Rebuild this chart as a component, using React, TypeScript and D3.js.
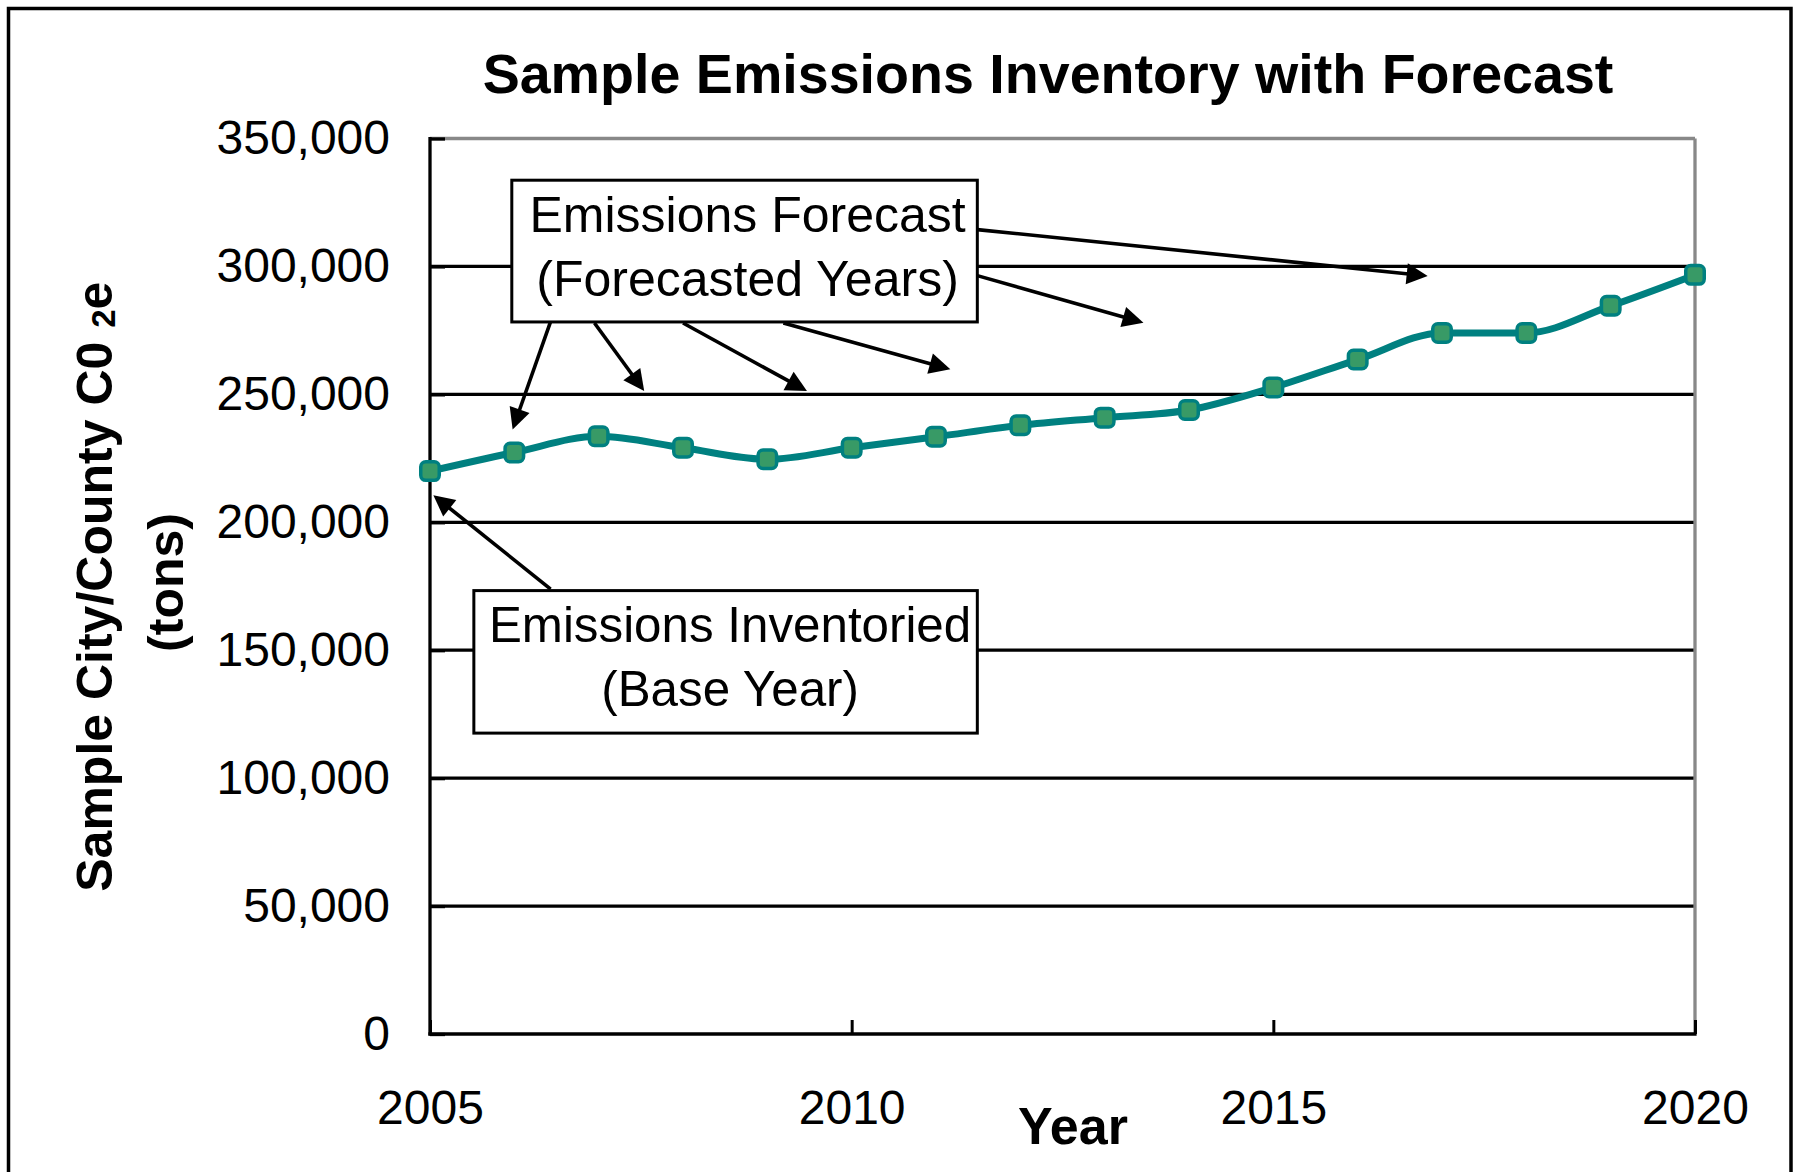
import React, { useEffect, useRef } from 'react'
import * as d3 from 'd3'

// emissions in tons of CO2e
const years = [2005, 2006, 2007, 2008, 2009, 2010, 2011, 2012, 2013, 2014, 2015, 2016, 2017, 2018, 2019, 2020]
const emissions = [220000, 227300, 233600, 229100, 224600, 229100, 233400, 237900, 240900, 243900, 252700, 263600, 274000, 274000, 284600, 296700]

const yTicks = [0, 50000, 100000, 150000, 200000, 250000, 300000, 350000]
const xTicks = [2005, 2010, 2015, 2020]

// callout boxes, in chart units (year, tons)
const forecastBox = { x0: 2005.97, x1: 2011.49, v0: 333700, v1: 278300, lines: ['Emissions Forecast', '(Forecasted Years)'] }
const baseBox = { x0: 2005.52, x1: 2011.49, v0: 173300, v1: 117600, lines: ['Emissions Inventoried', '(Base Year)'] }

// arrows: [fromYear, fromValue, toYear, toValue]
const forecastArrows = [
  [2006.43, 278450, 2005.98, 236300],
  [2006.95, 277900, 2007.54, 251300],
  [2008.0, 277900, 2009.47, 251300],
  [2009.19, 277900, 2011.17, 259800],
  [2011.49, 296400, 2013.46, 278000],
  [2011.49, 314400, 2016.83, 296300],
]
const baseArrows = [
  [2006.43, 173900, 2005.04, 210600],
]

function App() {
  const svgRef = useRef(null)

  useEffect(() => {
    const svg = d3.select(svgRef.current)
    svg.selectAll('*').remove()

    const font = '"Liberation Sans", Arial, Helvetica, sans-serif'
    const x = d3.scaleLinear().domain([2005, 2020]).range([430, 1695])
    const y = d3.scaleLinear().domain([0, 350000]).range([1034, 138.5])

    // outer frame, runs off the bottom of the page
    svg.append('rect')
      .attr('x', 8.5).attr('y', 8.5)
      .attr('width', 1782.5).attr('height', 1250)
      .attr('fill', '#fff')
      .attr('stroke', '#000')
      .attr('stroke-width', 3.5)

    svg.append('text')
      .attr('x', 1048).attr('y', 93)
      .attr('text-anchor', 'middle')
      .attr('font-family', font)
      .attr('font-weight', 'bold')
      .attr('font-size', 55.6)
      .text('Sample Emissions Inventory with Forecast')

    // gridlines (top one is grey, part of the plot frame)
    svg.append('g').selectAll('line')
      .data(yTicks.filter(d => d > 0))
      .join('line')
      .attr('x1', x(2005)).attr('x2', x(2020))
      .attr('y1', d => y(d)).attr('y2', d => y(d))
      .attr('stroke', d => d === 350000 ? '#888' : '#000')
      .attr('stroke-width', 3.3)

    svg.append('line')
      .attr('x1', x(2020)).attr('x2', x(2020))
      .attr('y1', y(350000)).attr('y2', y(0))
      .attr('stroke', '#888')
      .attr('stroke-width', 3.3)

    const yAxis = d3.axisLeft(y)
      .tickValues(yTicks)
      .tickFormat(d3.format(','))
      .tickSizeInner(-15)
      .tickSizeOuter(0)
      .tickPadding(40)

    const gy = svg.append('g')
      .attr('transform', `translate(${x(2005)},0)`)
      .call(yAxis)
    gy.select('.domain').remove()
    gy.attr('font-size', 48).attr('font-family', font)
    gy.selectAll('line').attr('stroke-width', 3.3)

    const xAxis = d3.axisBottom(x)
      .tickValues(xTicks)
      .tickFormat(d3.format('d'))
      .tickSizeInner(-14)
      .tickSizeOuter(0)
      .tickPadding(56)

    const gx = svg.append('g')
      .attr('transform', `translate(0,${y(0)})`)
      .call(xAxis)
    gx.select('.domain').remove()
    gx.attr('font-size', 48).attr('font-family', font)
    gx.selectAll('line').attr('stroke-width', 3)

    // axis lines
    svg.append('line')
      .attr('x1', x(2005)).attr('x2', x(2005))
      .attr('y1', y(350000) - 1.6).attr('y2', y(0) + 1.6)
      .attr('stroke', '#000').attr('stroke-width', 3.3)
    svg.append('line')
      .attr('x1', x(2005) - 1.6).attr('x2', x(2020) + 1.6)
      .attr('y1', y(0)).attr('y2', y(0))
      .attr('stroke', '#000').attr('stroke-width', 3.3)

    svg.append('text')
      .attr('x', 1073).attr('y', 1144)
      .attr('text-anchor', 'middle')
      .attr('font-family', font)
      .attr('font-weight', 'bold')
      .attr('font-size', 52)
      .text('Year')

    const yl = svg.append('text')
      .attr('transform', 'translate(111.7,586.7) rotate(-90)')
      .attr('text-anchor', 'middle')
      .attr('font-family', font)
      .attr('font-weight', 'bold')
      .attr('font-size', 50)
    yl.append('tspan').text('Sample City/County C0 ')
    yl.append('tspan').attr('font-size', 33).attr('dy', 3).text('2')
    yl.append('tspan').attr('dy', -3).text('e')

    svg.append('text')
      .attr('transform', 'translate(183,582.5) rotate(-90)')
      .attr('text-anchor', 'middle')
      .attr('font-family', font)
      .attr('font-weight', 'bold')
      .attr('font-size', 50)
      .text('(tons)')

    // callout boxes
    const boxes = [forecastBox, baseBox]
    const gb = svg.append('g')
    gb.selectAll('rect')
      .data(boxes)
      .join('rect')
      .attr('x', d => x(d.x0))
      .attr('y', d => y(d.v0))
      .attr('width', d => x(d.x1) - x(d.x0))
      .attr('height', d => y(d.v1) - y(d.v0))
      .attr('fill', '#fff')
      .attr('stroke', '#000')
      .attr('stroke-width', 3)

    boxes.forEach((b, bi) => {
      const cx = (x(b.x0) + x(b.x1)) / 2 + (bi === 0 ? 3 : 4.5)
      b.lines.forEach((t, i) => {
        gb.append('text')
          .attr('x', cx)
          .attr('y', y(b.v0) + 51.5 + i * 64)
          .attr('text-anchor', 'middle')
          .attr('font-family', font)
          .attr('font-size', bi === 0 ? 50 : 49.3)
          .text(t)
      })
    })

    // arrows
    const headLen = 21
    const headW = 21
    const ga = svg.append('g')
    forecastArrows.concat(baseArrows).forEach(a => {
      const x0 = x(a[0]), y0 = y(a[1]), x1 = x(a[2]), y1 = y(a[3])
      const len = Math.hypot(x1 - x0, y1 - y0)
      const ux = (x1 - x0) / len, uy = (y1 - y0) / len
      const bx = x1 - ux * headLen, by = y1 - uy * headLen
      ga.append('line')
        .attr('x1', x0).attr('y1', y0)
        .attr('x2', bx + ux * 2).attr('y2', by + uy * 2)
        .attr('stroke', '#000')
        .attr('stroke-width', 3.6)
      ga.append('polygon')
        .attr('points', [
          [x1, y1],
          [bx - uy * headW / 2, by + ux * headW / 2],
          [bx + uy * headW / 2, by - ux * headW / 2],
        ].map(p => p.join(',')).join(' '))
        .attr('fill', '#000')
    })

    // emissions line
    const line = d3.line()
      .x((d, i) => x(years[i]))
      .y(d => y(d))
      .curve(d3.curveMonotoneX)

    svg.append('path')
      .datum(emissions)
      .attr('d', line)
      .attr('fill', 'none')
      .attr('stroke', '#008080')
      .attr('stroke-width', 7)
      .attr('stroke-linejoin', 'round')

    const m = 18.5
    svg.append('g').selectAll('rect')
      .data(emissions)
      .join('rect')
      .attr('x', (d, i) => x(years[i]) - m / 2)
      .attr('y', d => y(d) - m / 2)
      .attr('width', m).attr('height', m)
      .attr('rx', 5)
      .attr('fill', '#389a66')
      .attr('stroke', '#008080')
      .attr('stroke-width', 3.5)
  }, [])

  return (
    <svg
      ref={svgRef}
      width={1799}
      height={1172}
      style={{ position: 'absolute', left: 0, top: 0, display: 'block' }}
    ></svg>
  )
}

export default App
